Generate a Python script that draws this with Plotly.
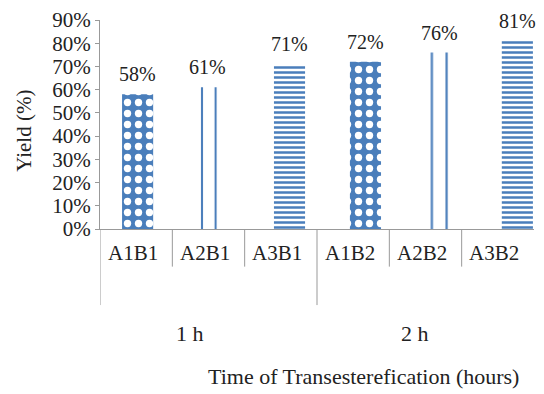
import plotly.graph_objects as go

# data
categories = ["A1B1", "A2B1", "A3B1", "A1B2", "A2B2", "A3B2"]
groups = ["1 h", "2 h"]
yield_pct = [58, 61, 71, 72, 76, 81]

blue = "#4a7ebb"
serif = "Liberation Serif"
ink = "#222"

# bars drift slightly right of the category centres in the original
bar_shift = [0.02, -0.01, 0.12, 0.17, 0.20, 0.27]
bar_w = 0.43

# one pattern per factor combination (A1 dots, A2 vertical lines, A3 stripes)
shapes_ = [".", "|", "-", ".", "|", "-"]
fg = ["white", blue, blue, "white", blue, blue]
bg = [blue, "white", "white", blue, "white", "white"]
psize = [11, 13.6, 5, 11, 14.75, 5]
psolid = [0.35, 0.15, 0.5, 0.35, 0.15, 0.5]

fig = go.Figure()
fig.add_trace(go.Bar(
    x=categories,
    y=[v / 100 for v in yield_pct],
    width=bar_w,
    offset=[s - bar_w / 2 for s in bar_shift],
    marker=dict(
        color="white",
        line=dict(width=0),
        pattern=dict(shape=shapes_, fgcolor=fg, bgcolor=bg,
                     size=psize, solidity=psolid, fillmode="replace"),
    ),
    showlegend=False,
))

# value labels above the bars
for i, v in enumerate(yield_pct):
    fig.add_annotation(x=i + bar_shift[i], y=v / 100, text=f"{v}%", showarrow=False,
                       yanchor="bottom", yshift=7,
                       font=dict(family=serif, size=20, color=ink))

# category labels under the axis
for i, c in enumerate(categories):
    fig.add_annotation(x=i - 0.05, y=-0.115, yref="paper", text=c, showarrow=False,
                       xanchor="center", yanchor="middle",
                       font=dict(family=serif, size=21, color=ink))

# separators: short ones between categories, long ones at group boundaries
for i in range(6):
    long_line = i in (0, 3)
    fig.add_shape(type="line", xref="x", yref="paper",
                  x0=i - 0.5, x1=i - 0.5, y0=0,
                  y1=-0.364 if long_line else -0.18,
                  line=dict(color="#999", width=1))

# group labels
for g, xg in zip(groups, [0.75, 3.85]):
    fig.add_annotation(x=xg, y=-0.498, yref="paper", text=g, showarrow=False,
                       xanchor="center", yanchor="middle",
                       font=dict(family=serif, size=22, color=ink))

fig.add_annotation(x=0.608, y=-0.708, xref="paper", yref="paper",
                   text="Time of Transesterefication (hours)", showarrow=False,
                   xanchor="center", yanchor="middle",
                   font=dict(family=serif, size=22, color=ink))

fig.add_annotation(x=-0.175, y=0.47, xref="paper", yref="paper",
                   text="Yield (%)", textangle=-90, showarrow=False,
                   xanchor="center", yanchor="middle",
                   font=dict(family=serif, size=21, color=ink))

fig.update_xaxes(range=[-0.5, 5.5], showticklabels=False, ticks="",
                 showline=True, linecolor="#999", linewidth=1,
                 showgrid=False, zeroline=False, automargin=False)
fig.update_yaxes(range=[0, 0.9], dtick=0.1, tickformat=".0%",
                 ticks="outside", ticklen=4, tickcolor="#999",
                 showline=True, linecolor="#999", linewidth=1,
                 showgrid=False, zeroline=False, automargin=False,
                 tickfont=dict(family=serif, size=21, color=ink))

# the page body adds an 8px margin, so the figure is 8px smaller each way
fig.update_layout(
    width=536, height=386,
    margin=dict(l=92, r=10, t=12, b=165),
    paper_bgcolor="white", plot_bgcolor="white",
)

fig.write_html("out.html")
